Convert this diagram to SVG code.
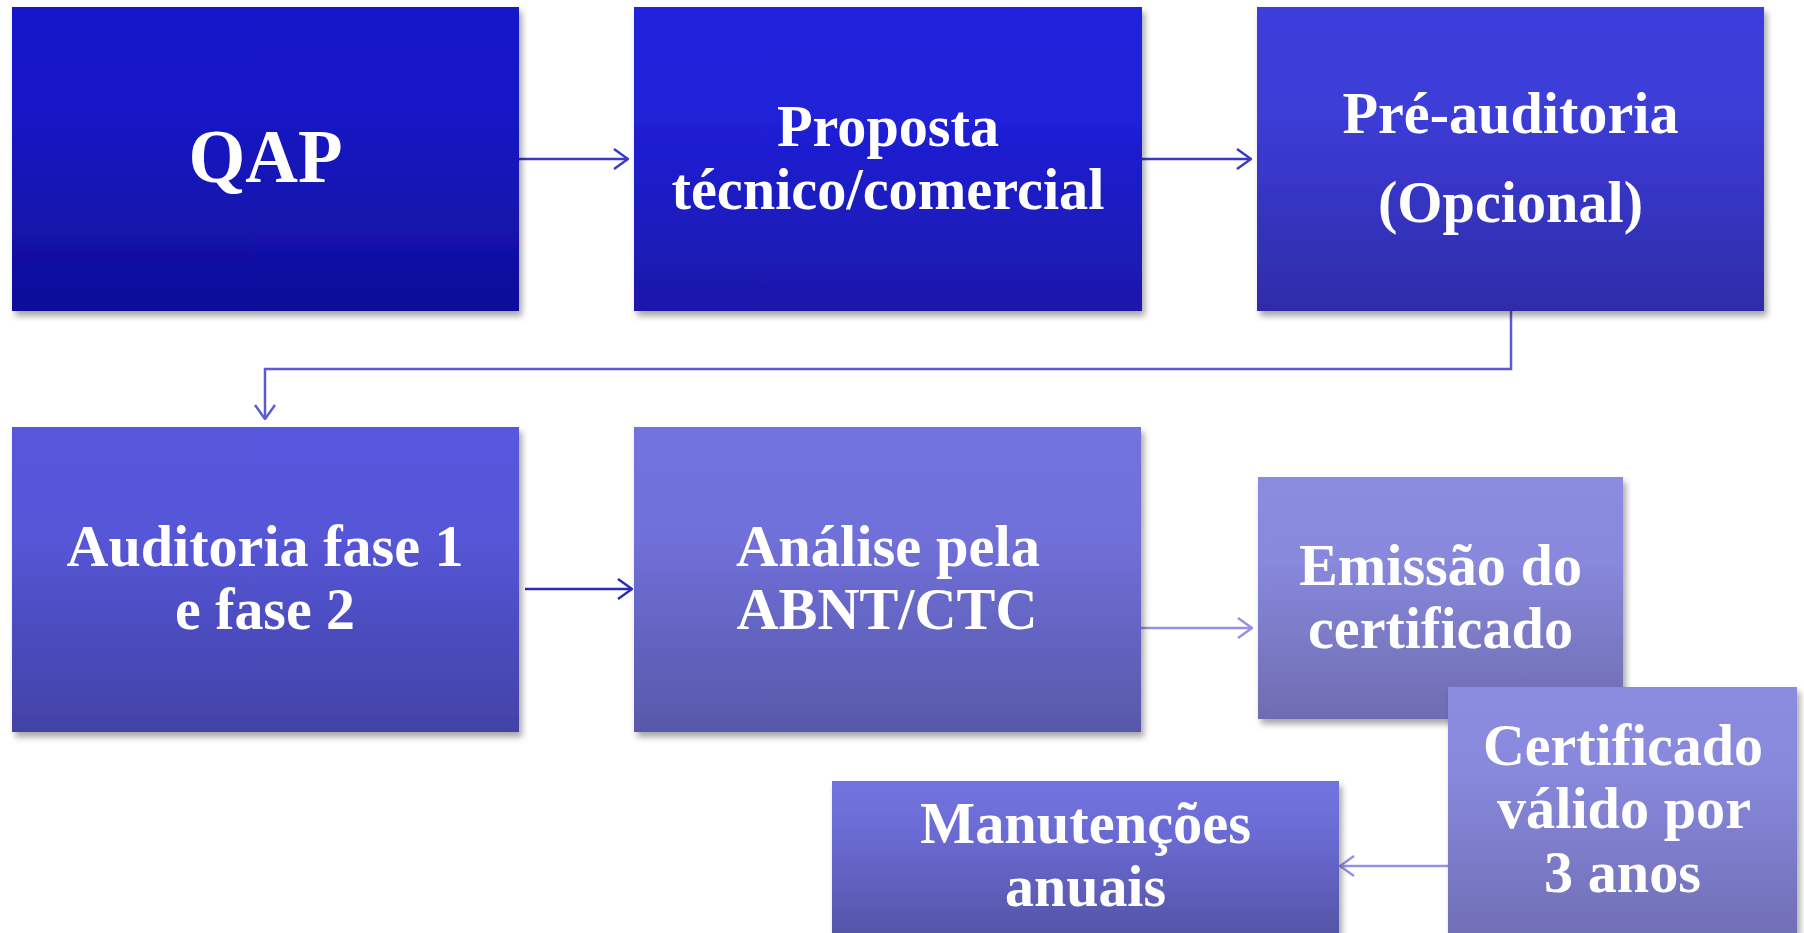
<svg xmlns="http://www.w3.org/2000/svg" width="1804" height="933" viewBox="0 0 1804 933">
<style>
text{font-family:"Liberation Serif","Times New Roman",serif;font-weight:bold;fill:#ffffff;font-size:60px;text-anchor:middle}
.big{font-size:77px}
.c{fill:none;stroke-width:2.5}
</style>
<defs>
<filter id="sh" x="-5%" y="-5%" width="115%" height="115%">
<feDropShadow dx="3" dy="5" stdDeviation="3" flood-color="#000" flood-opacity="0.35"/>
</filter>
<linearGradient id="g1" x1="0" y1="0" x2="0" y2="1"><stop offset="0" stop-color="#1717CA"/><stop offset="0.35" stop-color="#1818C6"/><stop offset="1" stop-color="#0F0E98"/></linearGradient>
<linearGradient id="g2" x1="0" y1="0" x2="0" y2="1"><stop offset="0" stop-color="#2121DE"/><stop offset="0.35" stop-color="#2020D8"/><stop offset="1" stop-color="#1A18AA"/></linearGradient>
<linearGradient id="g3" x1="0" y1="0" x2="0" y2="1"><stop offset="0" stop-color="#3D3DDC"/><stop offset="0.35" stop-color="#3C3CD8"/><stop offset="1" stop-color="#2E2CA8"/></linearGradient>
<linearGradient id="g4" x1="0" y1="0" x2="0" y2="1"><stop offset="0" stop-color="#5858DE"/><stop offset="0.35" stop-color="#5656D8"/><stop offset="1" stop-color="#4242A6"/></linearGradient>
<linearGradient id="g5" x1="0" y1="0" x2="0" y2="1"><stop offset="0" stop-color="#7373E0"/><stop offset="0.35" stop-color="#7070DA"/><stop offset="1" stop-color="#5858AA"/></linearGradient>
<linearGradient id="g6" x1="0" y1="0" x2="0" y2="1"><stop offset="0" stop-color="#8B8BE0"/><stop offset="0.35" stop-color="#8888DC"/><stop offset="1" stop-color="#6E6CB0"/></linearGradient>
<linearGradient id="g7" x1="0" y1="0" x2="0" y2="1"><stop offset="0" stop-color="#8B8BE0"/><stop offset="0.3" stop-color="#8888DC"/><stop offset="1" stop-color="#6A68AC"/></linearGradient>
<linearGradient id="g8" x1="0" y1="0" x2="0" y2="1"><stop offset="0" stop-color="#7373E0"/><stop offset="0.3" stop-color="#6C6CD6"/><stop offset="1" stop-color="#5454A6"/></linearGradient>
<marker id="a1" markerUnits="userSpaceOnUse" markerWidth="16" markerHeight="24" viewBox="0 0 16 24" refX="15" refY="12" orient="auto"><path d="M1,2 L15,12 L1,22" fill="none" stroke="#3A3AC8" stroke-width="2.5"/></marker>
<marker id="a3" markerUnits="userSpaceOnUse" markerWidth="16" markerHeight="24" viewBox="0 0 16 24" refX="15" refY="12" orient="auto"><path d="M1,2 L15,12 L1,22" fill="none" stroke="#5C5CD2" stroke-width="2.5"/></marker>
<marker id="a4" markerUnits="userSpaceOnUse" markerWidth="16" markerHeight="24" viewBox="0 0 16 24" refX="15" refY="12" orient="auto"><path d="M1,2 L15,12 L1,22" fill="none" stroke="#2A2ABF" stroke-width="2.5"/></marker>
<marker id="a5" markerUnits="userSpaceOnUse" markerWidth="16" markerHeight="24" viewBox="0 0 16 24" refX="15" refY="12" orient="auto"><path d="M1,2 L15,12 L1,22" fill="none" stroke="#9292E2" stroke-width="2.5"/></marker>
</defs>
<rect width="1804" height="933" fill="#ffffff"/>

<g id="connectors">
<path class="c" d="M519,159 H628" stroke="#3A3AC8" marker-end="url(#a1)"/>
<path class="c" d="M1142,159 H1251" stroke="#3A3AC8" marker-end="url(#a1)"/>
<path class="c" d="M1511,311 V369 H265 V419" stroke="#5C5CD2" marker-end="url(#a3)"/>
<path class="c" d="M525,589 H632" stroke="#2A2ABF" marker-end="url(#a4)"/>
<path class="c" d="M1141,628 H1252" stroke="#9292E2" marker-end="url(#a5)"/>
<path class="c" d="M1448,866 H1340" stroke="#9292E2" marker-end="url(#a5)"/>
</g>

<g id="qap">
<rect x="12" y="7" width="507" height="304" fill="url(#g1)" filter="url(#sh)"/>
<text class="big" x="265.5" y="182" textLength="154" lengthAdjust="spacingAndGlyphs">QAP</text>
</g>
<g id="proposta">
<rect x="634" y="7" width="508" height="304" fill="url(#g2)" filter="url(#sh)"/>
<text x="888" y="146" textLength="222" lengthAdjust="spacingAndGlyphs">Proposta</text>
<text x="888" y="209" textLength="433" lengthAdjust="spacingAndGlyphs">técnico/comercial</text>
</g>
<g id="pre-auditoria">
<rect x="1257" y="7" width="507" height="304" fill="url(#g3)" filter="url(#sh)"/>
<text x="1510.5" y="133" textLength="336" lengthAdjust="spacingAndGlyphs">Pré-auditoria</text>
<text x="1510.5" y="222" textLength="265" lengthAdjust="spacingAndGlyphs">(Opcional)</text>
</g>
<g id="auditoria">
<rect x="12" y="427" width="507" height="305" fill="url(#g4)" filter="url(#sh)"/>
<text x="265" y="566" textLength="397" lengthAdjust="spacingAndGlyphs">Auditoria fase 1</text>
<text x="265" y="629" textLength="180" lengthAdjust="spacingAndGlyphs">e fase 2</text>
</g>
<g id="analise">
<rect x="634" y="427" width="507" height="305" fill="url(#g5)" filter="url(#sh)"/>
<text x="888" y="566" textLength="304" lengthAdjust="spacingAndGlyphs">Análise pela</text>
<text x="887" y="629" textLength="301" lengthAdjust="spacingAndGlyphs">ABNT/CTC</text>
</g>
<g id="emissao">
<rect x="1258" y="477" width="365" height="242" fill="url(#g6)" filter="url(#sh)"/>
<text x="1440.5" y="585" textLength="283" lengthAdjust="spacingAndGlyphs">Emissão do</text>
<text x="1440.5" y="648" textLength="265" lengthAdjust="spacingAndGlyphs">certificado</text>
</g>
<g id="certificado">
<rect x="1448" y="687" width="349" height="290" fill="url(#g7)" filter="url(#sh)"/>
<text x="1623" y="765" textLength="280" lengthAdjust="spacingAndGlyphs">Certificado</text>
<text x="1624" y="828" textLength="254" lengthAdjust="spacingAndGlyphs">válido por</text>
<text x="1622.5" y="892" textLength="157" lengthAdjust="spacingAndGlyphs">3 anos</text>
</g>
<g id="manutencoes">
<rect x="832" y="781" width="507" height="156" fill="url(#g8)" filter="url(#sh)"/>
<text x="1085.5" y="843" textLength="331" lengthAdjust="spacingAndGlyphs">Manutenções</text>
<text x="1085.5" y="906" textLength="161" lengthAdjust="spacingAndGlyphs">anuais</text>
</g>
</svg>
